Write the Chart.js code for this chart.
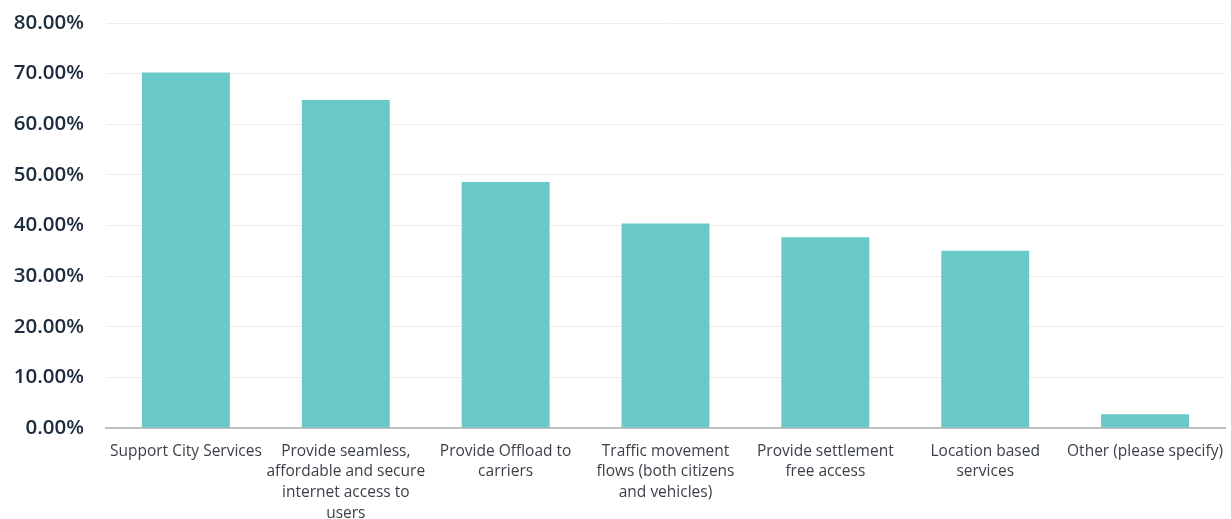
<!DOCTYPE html>
<html>
<head>
<meta charset="utf-8">
<script src="https://cdn.jsdelivr.net/npm/chart.js@4/dist/chart.umd.min.js"></script>
<style>
  html, body { margin: 0; padding: 0; background: #fff; }
  #wrap { width: 1231px; height: 519px; position: relative; }
</style>
</head>
<body>
<div id="wrap"><canvas id="chart"></canvas></div>
<script>
const categories = [
    ["Support City Services"],
    ["Provide seamless,", "affordable and secure", "internet access to", "users"],
    ["Provide Offload to", "carriers"],
    ["Traffic movement", "flows (both citizens", "and vehicles)"],
    ["Provide settlement", "free access"],
    ["Location based", "services"],
    ["Other (please specify)"],
];
const shares = [70.2, 64.8, 48.6, 40.4, 37.7, 35.0, 2.7];
const yTicks = [0, 10, 20, 30, 40, 50, 60, 70, 80];

const ctx = document.getElementById("chart").getContext("2d");
new Chart(ctx, {
    type: "bar",
    data: {
        labels: categories,
        datasets: [{ data: shares, backgroundColor: "#68c9c8", barPercentage: 0.55, categoryPercentage: 1 }],
    },
    options: {
        responsive: true,
        maintainAspectRatio: false,
        animation: false,
        layout: { padding: { top: 23, right: 6, left: 0, bottom: 0 } },
        plugins: { legend: { display: false }, tooltip: { enabled: false } },
        scales: {
            x: {
                grid: { display: false, drawTicks: false },
                border: { color: "#bfbfbf", width: 2 },
                ticks: { color: "#3b3f48", font: { family: "Open Sans", size: 15.5, lineHeight: 1.33 }, padding: 13, maxRotation: 0, autoSkip: false },
                afterFit: (s) => { s.height = 91; s.paddingLeft = 0; s.paddingRight = 0; },
            },
            y: {
                min: 0, max: 80,
                afterBuildTicks: (s) => { s.ticks = yTicks.map((v) => ({ value: v })); },
                grid: { color: "#ececec", drawTicks: false },
                border: { display: false },
                ticks: { color: "#1c2b3e", font: { family: "Open Sans", size: 20.5, weight: "600" }, padding: 22, callback: (v) => v.toFixed(2) + "%" },
                afterFit: (s) => { s.width = 106; s.paddingTop = 0; s.paddingBottom = 0; },
            },
        },
    },
});
</script>
</body>
</html>
